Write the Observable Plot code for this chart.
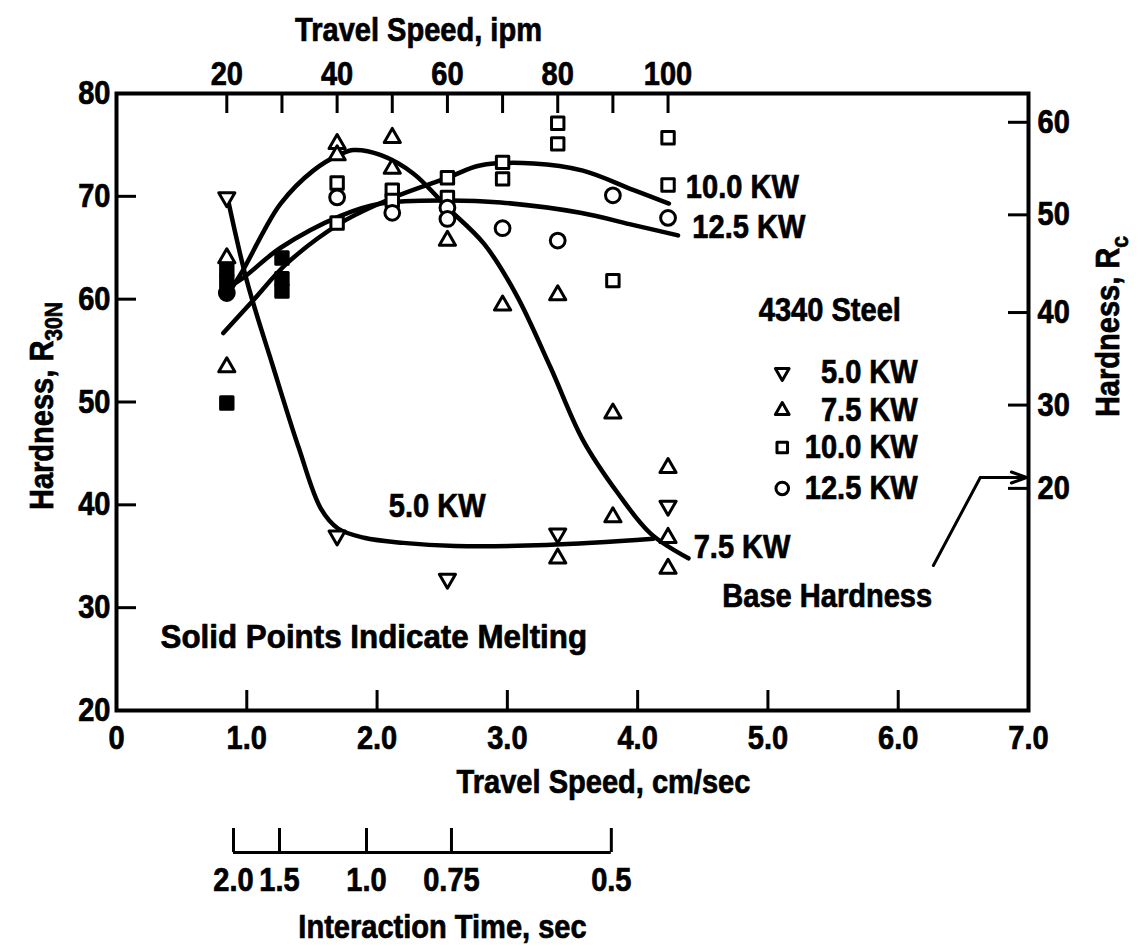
<!DOCTYPE html>
<html><head><meta charset="utf-8">
<script src="https://cdn.jsdelivr.net/npm/d3@7"></script>
<script src="https://cdn.jsdelivr.net/npm/@observablehq/plot@0.6"></script>
<style>body{margin:0;background:#fff;}</style>
</head><body><div id="chart"></div>
<script>
const FONT = '"Liberation Sans", Arial, sans-serif';

// ---- tick labels ----
const xTicks = [0, 1, 2, 3, 4, 5, 6, 7];
const yTicks = [20, 30, 40, 50, 60, 70, 80];
const ipmTicks = [20, 30, 40, 50, 60, 70, 80, 90, 100];
const ipmLabels = [20, 40, 60, 80, 100];
const rcTicks = [20, 30, 40, 50, 60];
const rcAtR30N = [41.6, 49.7, 58.7, 68.2, 77.2];
const interactionLabels = ["2.0", "1.5", "1.0", "0.75", "0.5"];
const interactionAtSpeed = [0.898, 1.251, 1.919, 2.571, 3.798];
const IPM_TO_CMS = 2.54 / 60;

// ---- measured points: [travel speed ipm, hardness R30N] ----
const kw50 = [[20, 69.9], [40, 37.0], [60, 32.8], [80, 37.2], [100, 39.9]];
const kw75 = [[20, 64.0], [20, 53.4], [40, 75.1], [40, 74.0], [50, 75.7], [50, 72.7], [60, 65.7],
  [70, 59.4], [80, 60.4], [80, 34.8], [90, 48.9], [90, 38.8], [100, 43.6], [100, 36.8], [100, 33.8]];
const kw100 = [[40, 71.3], [40, 67.4], [50, 70.6], [50, 69.6], [60, 71.8], [60, 69.9], [70, 73.3],
  [70, 71.7], [80, 77.1], [80, 75.1], [90, 61.8], [100, 75.7], [100, 71.1]];
const kw125 = [[40, 69.9], [50, 68.4], [60, 68.9], [60, 67.8], [70, 66.9], [80, 65.7], [90, 70.1], [100, 67.9]];
// solid points (melting)
const melt100 = [[20, 62.9], [20, 61.7], [20, 49.9], [30, 64.0], [30, 62.0], [30, 60.8]];
const melt125 = [[20, 60.6]];

// ---- fitted curves: [travel speed cm/sec, hardness R30N] ----
const fit50 = [[0.85, 70.0], [1.0, 61.8], [1.2, 53.5], [1.4, 45.5], [1.57, 39.6], [1.70, 37.7],
  [1.9, 36.8], [2.2, 36.3], [2.6, 36.0], [3.3, 36.1], [4.12, 36.7]];
const fit75 = [[0.86, 60.6], [0.97, 62.8], [1.13, 66.6], [1.26, 69.3], [1.51, 72.5], [1.72, 74.1],
  [1.82, 74.5], [2.03, 74.0], [2.28, 72.2], [2.54, 68.9], [2.82, 65.4], [3.07, 60.4], [3.33, 53.4],
  [3.58, 46.3], [3.85, 41.1], [4.10, 37.2], [4.39, 34.8]];
const fit100 = [[0.82, 56.7], [1.05, 59.9], [1.31, 63.5], [1.72, 67.4], [2.13, 69.9], [2.54, 71.8],
  [2.79, 73.0], [3.20, 73.2], [3.58, 72.5], [3.97, 70.6], [4.24, 69.3]];
const fit125 = [[0.875, 61.3], [0.975, 62.1], [1.26, 65.0], [1.72, 68.1], [2.03, 69.3], [2.54, 69.6],
  [2.95, 69.4], [3.56, 68.4], [3.97, 67.2], [4.31, 66.2]];

// ---- annotations ----
const curveLabels = [
  {text: "10.0 KW", x: 4.37, y: 70.9},
  {text: "12.5 KW", x: 4.42, y: 67.0},
  {text: "7.5 KW", x: 4.43, y: 35.85},
  {text: "5.0 KW", x: 2.09, y: 39.8}
];
const legendTitle = {text: "4340 Steel", x: 4.93, y: 58.9};
const legendNames = ["5.0 KW", "7.5 KW", "10.0 KW", "12.5 KW"];
const legendRows = [52.87, 49.17, 45.58, 41.59];
const legendSymbolX = 5.11, legendTextX = 6.15;
const meltNote = {text: "Solid Points Indicate Melting", x: 0.338, y: 27.1};
const baseNote = {text: "Base Hardness", x: 4.65, y: 31.1};
const baseHardness = 42.66;
const baseArrowFoot = [6.27, 34.1], baseArrowKnee = 6.63;

// ---- layout ----
const W = 1139, H = 946, ML = 116, MR = 111, MT = 93, MB = 236;
const FW = W - ML - MR, FH = H - MT - MB, TICK = 20;
const SX = 0.88; // horizontal compression to imitate the condensed typeface
const SX_WIDE = {"Solid Points Indicate Melting": 0.95};

const sq3 = Math.sqrt(3);
const triDown = {draw(c, size) {
  const y = -Math.sqrt(size / (sq3 * 3));
  c.moveTo(0, -2 * y); c.lineTo(-sq3 * y, y); c.lineTo(sq3 * y, y); c.closePath();
}};
const pts = (arr) => arr.map(([ipm, v]) => ({x: ipm * IPM_TO_CMS, y: v}));
const crv = (arr) => arr.map(([x, y]) => ({x, y}));
const symSpec = [
  {symbol: triDown, r: 6},
  {symbol: "triangle", r: 6},
  {symbol: "square", r: 7},
  {symbol: "circle", r: 7.4}
];
const dotOpts = (i, fill) => ({x: "x", y: "y", symbol: symSpec[i].symbol, r: symSpec[i].r,
  stroke: "black", strokeWidth: 3, fill, strokeLinejoin: "round"});
const lineOpts = {x: "x", y: "y", curve: "catmull-rom", stroke: "black", strokeWidth: 4.5, strokeLinecap: "round"};
const T = {lineAnchor: "middle", textAnchor: "middle"};

const chart = Plot.plot({
  width: W, height: H,
  marginLeft: ML, marginRight: MR, marginTop: MT, marginBottom: MB,
  x: {domain: [0, 7], label: null},
  y: {domain: [20, 80], label: null},
  style: {fontFamily: FONT, fontSize: "33px", fontWeight: "bold", color: "black", background: "white"},
  marks: [
    Plot.frame({strokeWidth: 4}),
    // inward ticks
    Plot.tickY(yTicks, {y: d => d, insetRight: FW - TICK, strokeWidth: 3}),
    Plot.tickY(rcAtR30N, {y: d => d, insetLeft: FW - TICK, strokeWidth: 3}),
    Plot.tickX(xTicks.slice(1, -1), {x: d => d, insetTop: FH - TICK, strokeWidth: 3}),
    Plot.tickX(ipmTicks.map(d => d * IPM_TO_CMS), {x: d => d, insetBottom: FH - TICK, strokeWidth: 3}),
    // tick labels
    Plot.axisX(xTicks, {anchor: "bottom", tickSize: 0, tickPadding: 15, label: null,
      tickFormat: d => d === 0 ? "0" : d.toFixed(1)}),
    Plot.axisY(yTicks, {anchor: "left", tickSize: 0, tickPadding: 6, label: null}),
    Plot.axisX(ipmLabels.map(d => d * IPM_TO_CMS), {anchor: "top", tickSize: 0, tickPadding: 9, label: null,
      tickFormat: d => String(Math.round(d / IPM_TO_CMS))}),
    Plot.axisY(rcAtR30N, {anchor: "right", tickSize: 0, tickPadding: 9, label: null,
      tickFormat: d => String(rcTicks[rcAtR30N.indexOf(d)])}),
    // axis titles
    Plot.text(["Travel Speed, ipm"], {...T, text: d => d, frameAnchor: "top", dx: 418 - 572, dy: 30 - MT}),
    Plot.text(["Travel Speed, cm/sec"], {...T, text: d => d, frameAnchor: "bottom", dx: 603 - 572, dy: 72}),
    Plot.text(["Hardness, R|30N"], {...T, text: d => d, frameAnchor: "left", rotate: -90, dx: 42 - ML, dy: 4}),
    Plot.text(["Hardness, R|c"], {...T, text: d => d, frameAnchor: "right", rotate: -90, dx: 1108 - (W - MR), dy: 326 - (MT + FH / 2)}),
    // interaction time scale
    Plot.ruleY([20], {x1: d3.min(interactionAtSpeed), x2: d3.max(interactionAtSpeed), dy: 142, strokeWidth: 3}),
    Plot.tickX(interactionAtSpeed, {x: d => d, insetTop: FH - 24, dy: 142, strokeWidth: 3}),
    Plot.text(interactionAtSpeed, {...T, x: d => d, frameAnchor: "bottom", dy: 170, text: (d, i) => interactionLabels[i]}),
    Plot.text(["Interaction Time, sec"], {...T, text: d => d, frameAnchor: "bottom", dx: 442 - 572, dy: 217}),
    // curves
    Plot.line(crv(fit50), lineOpts),
    Plot.line(crv(fit75), lineOpts),
    Plot.line(crv(fit100), lineOpts),
    Plot.line(crv(fit125), lineOpts),
    // points
    Plot.dot(pts(kw50), dotOpts(0, "white")),
    Plot.dot(pts(kw75), dotOpts(1, "white")),
    Plot.dot(pts(kw100), dotOpts(2, "white")),
    Plot.dot(pts(kw125), dotOpts(3, "white")),
    Plot.dot(pts(melt100), dotOpts(2, "black")),
    Plot.dot(pts(melt125), dotOpts(3, "black")),
    // curve labels
    Plot.text(curveLabels, {x: "x", y: "y", text: "text", textAnchor: "start"}),
    // legend
    Plot.text([legendTitle], {x: "x", y: "y", text: "text", textAnchor: "start"}),
    ...symSpec.map((s, i) => Plot.dot([legendRows[i]], {x: () => legendSymbolX, y: d => d, symbol: s.symbol,
      r: s.r * 0.85, stroke: "black", strokeWidth: 3, fill: "white", strokeLinejoin: "round"})),
    Plot.text(legendRows, {x: () => legendTextX, y: d => d, text: (d, i) => legendNames[i], textAnchor: "end"}),
    // notes
    Plot.text([meltNote], {x: "x", y: "y", text: "text", textAnchor: "start"}),
    Plot.text([baseNote], {x: "x", y: "y", text: "text", textAnchor: "start"}),
    Plot.line([{x: baseArrowFoot[0], y: baseArrowFoot[1]}, {x: baseArrowKnee, y: baseHardness}], {x: "x", y: "y", strokeWidth: 3}),
    Plot.arrow([baseHardness], {x1: baseArrowKnee, x2: 7, y1: d => d, y2: d => d, strokeWidth: 3, headLength: 14, headAngle: 40, insetEnd: 2})
  ]
});

const svg = d3.select(chart);
// subscripts on the hardness titles
svg.selectAll("text").each(function () {
  const s = this.textContent;
  if (s.indexOf("|") >= 0) {
    const [main, sub] = s.split("|");
    const t = d3.select(this);
    t.text(null);
    t.append("tspan").text(main);
    t.append("tspan").attr("dy", "0.38em").attr("font-size", "24px").text(sub);
  }
});
// condense every text horizontally around its own anchor (x/y attributes, if any, are em offsets)
// and thicken the strokes a little, like the heavy printed lettering
svg.selectAll("text").each(function () {
  const tr = this.getAttribute("transform") || "";
  const s = SX_WIDE[this.textContent] || SX;
  this.setAttribute("transform", `${tr} scale(${s},1)`);
  this.setAttribute("stroke", "black");
  this.setAttribute("stroke-width", "0.7");
});

document.getElementById("chart").appendChild(chart);
</script>
</body></html>
